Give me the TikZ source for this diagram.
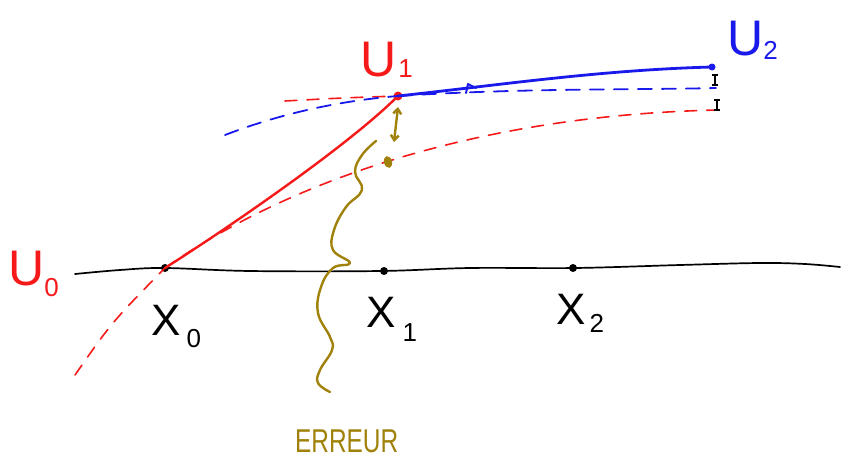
\documentclass[tikz,border=0pt]{standalone}
\usepackage{fontspec}
\setmainfont{Liberation Sans}
\usetikzlibrary{arrows.meta,shapes.geometric}
\definecolor{penred}{RGB}{245,25,25}
\definecolor{penblue}{RGB}{25,25,235}
\definecolor{pengold}{RGB}{160,130,10}
\newcommand\hlab[4]{#1\hspace{#4pt}\raisebox{-#3pt}{\fontsize{26}{26}\selectfont #2}}
\begin{document}
\begin{tikzpicture}[x=1pt,y=-1pt,line cap=round,line join=round,
  axisline/.style={black,line width=1.7pt},
  blackdot/.style={circle,fill=black,inner sep=0pt,minimum size=8pt},
  reddot/.style={circle,fill=penred,inner sep=0pt,minimum size=9pt},
  bluedot/.style={circle,fill=penblue,inner sep=0pt,minimum size=7pt},
  golddot/.style={ellipse,fill=pengold,inner sep=0pt,minimum width=8pt,minimum height=12pt,rotate=15},
  redsolid/.style={penred,line width=2.4pt},
  reddash/.style={penred,line width=1.6pt,dash pattern=on 12pt off 10pt},
  bluesolid/.style={penblue,line width=2.8pt},
  bluedash/.style={penblue,line width=1.8pt,dash pattern=on 14pt off 10pt},
  goldline/.style={pengold,line width=2.4pt},
  gap/.style={black,line width=1.6pt,{Bar[width=6pt]}-{Bar[width=6pt]}},
  bigtxt/.style={inner sep=0pt,anchor=base west,font=\fontsize{44}{44}\selectfont},
  ulab/.style={inner sep=0pt,anchor=base west,font=\fontsize{50}{50}\selectfont},
  errtxt/.style={inner sep=0pt,anchor=base west,text=pengold,xscale=0.74,font=\fontsize{33}{33}\selectfont}]
\useasboundingbox (0,0) rectangle (842,460);
% axis
\draw[axisline] plot[smooth,tension=0.6] coordinates {(75,274) (120,270) (165,268) (250,271) (380,271) (470,268) (575,268) (680,265) (760,263) (805,264) (840,267)};
\node[blackdot] (x0) at (165,268) {};
\node[blackdot] (x1) at (384,271) {};
\node[blackdot] (x2) at (573,268) {};
% points U
\node[reddot] (u1) at (398,96) {};
\node[bluedot] (u2) at (712,67) {};
\coordinate (r0) at (75,375);
\coordinate (r1) at (285,101);
\coordinate (r2) at (718,110);
\coordinate (b0) at (225,135);
\coordinate (b2) at (716,88);
% red curves
\draw[reddash] (r0) .. controls (112,322) .. (x0.center);
\draw[reddash] (x0.center) .. controls (290,180) and (480,115) .. (r2);
\draw[reddash] (r1) .. controls (340,98) .. (u1.center);
\draw[redsolid] (x0.center) .. controls +(60,-38) and +(-50,50) .. (u1.center);
% blue curves
\draw[bluedash] (b0) .. controls (290,110) and (350,100) .. (u1.center);
\draw[bluedash] (u1.center) .. controls (520,88) and (640,90) .. (b2);
\draw[bluesolid] (u1.center) .. controls (500,85) and (600,70) .. (u2.center);
\draw[penblue,line width=2pt] (466,93) -- (468,84) -- (476,88);
% gap marks
\coordinate (g1a) at (715,74);
\coordinate (g1b) at (715,86);
\coordinate (g2a) at (717,99);
\coordinate (g2b) at (717,111);
\draw[gap] (g1a) -- (g1b);
\draw[gap] (g2a) -- (g2b);
% error
\node[golddot] (gd) at (388,162) {};
\coordinate (ga) at (394,142);
\coordinate (gb) at (398,107);
\draw[goldline,{Straight Barb[length=5pt,width=8pt]}-{Straight Barb[length=5pt,width=8pt]}] (ga) -- (gb);
\draw[goldline] plot[smooth,tension=0.7] coordinates {(376,141) (362,155) (355,172) (362,190) (346,207) (334,230) (333,250) (350,263) (333,268) (321,287) (318,313) (330,337) (332,350) (320,370) (318,383) (330,392)};
\node[errtxt] (err) at (295,452) {ERREUR};
% labels
\node[bigtxt] (lx0) at (151,335) {\hlab{X}{0}{12}{6}};
\node[bigtxt] (lx1) at (366,327) {\hlab{X}{1}{14}{7}};
\node[bigtxt] (lx2) at (556,324) {\hlab{X}{2}{8}{4}};
\node[ulab,text=penred] (lu0) at (8,285) {\hlab{U}{0}{11}{0}};
\node[ulab,text=penred] (lu1) at (360,76) {\hlab{U}{1}{1}{2}};
\node[ulab,text=penblue] (lu2) at (727,56) {\hlab{U}{2}{4}{0}};
\end{tikzpicture}
\end{document}
